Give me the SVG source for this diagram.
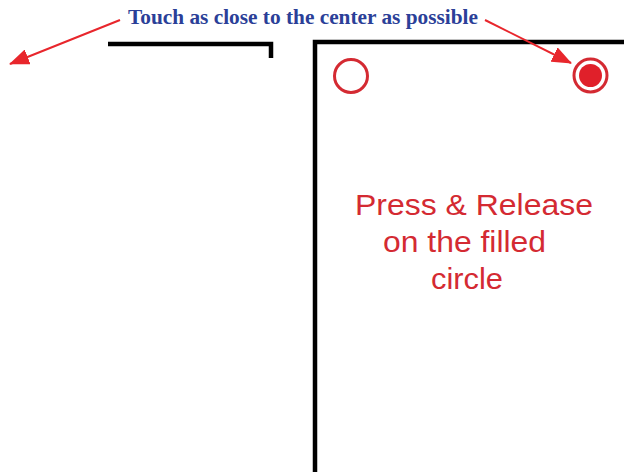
<svg xmlns="http://www.w3.org/2000/svg" width="624" height="472" viewBox="0 0 624 472">
<style>
.frame{fill:none;stroke:#000;stroke-width:4.5}
.lbl{font-family:"Liberation Serif",serif;font-weight:bold;font-size:21px;fill:#2b3f98}
.red{font-family:"Liberation Sans",Arial,sans-serif;font-size:29px;fill:#d42a32;text-anchor:middle}
.arr{stroke:#e8262c;stroke-width:2;fill:none}
</style>
<defs>
<marker id="ah" markerWidth="20" markerHeight="16" refX="19" refY="8" orient="auto" markerUnits="userSpaceOnUse">
<path d="M0,0 L20,8 L0,16 z" fill="#e8262c"/>
</marker>
</defs>
<rect width="624" height="472" fill="#fff"/>
<g id="left-screen"><path class="frame" d="M108,44 H271 V58"/></g>
<g id="right-screen"><path class="frame" d="M315,472 V42 H624"/></g>
<g id="title"><text class="lbl" x="303" y="24" text-anchor="middle" textLength="350" lengthAdjust="spacingAndGlyphs">Touch as close to the center as possible</text></g>
<g id="open-circle"><circle cx="351" cy="76" r="16.5" fill="none" stroke="#d42a32" stroke-width="3"/></g>
<g id="filled-circle"><circle cx="590.5" cy="75.5" r="16.5" fill="none" stroke="#d42a32" stroke-width="3"/><circle cx="590.5" cy="75.5" r="11.5" fill="#e0202a"/></g>
<g id="instructions">
<text class="red" x="474" y="215" textLength="238" lengthAdjust="spacingAndGlyphs">Press &amp; Release</text>
<text class="red" x="464.5" y="252" textLength="163" lengthAdjust="spacingAndGlyphs">on the filled</text>
<text class="red" x="467" y="289" textLength="72" lengthAdjust="spacingAndGlyphs">circle</text>
</g>
<g id="connectors">
<line class="arr" x1="120" y1="20" x2="10" y2="64" marker-end="url(#ah)"/>
<line class="arr" x1="485" y1="20" x2="571" y2="63" marker-end="url(#ah)"/>
</g>
</svg>
